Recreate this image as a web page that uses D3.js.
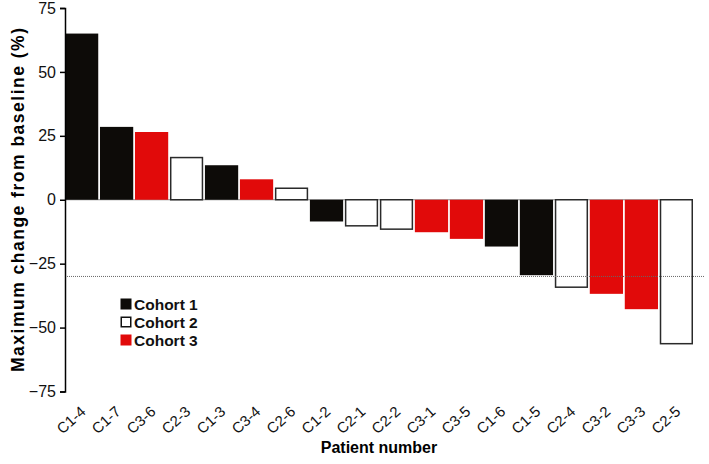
<!DOCTYPE html>
<html>
<head>
<meta charset="utf-8">
<script src="https://cdn.jsdelivr.net/npm/d3@7"></script>
<style>
  body { margin: 0; background: #fff; }
  text { font-family: "Liberation Sans", Arial, sans-serif; }
</style>
</head>
<body>
<script>
// data
var patients = ['C1-4', 'C1-7', 'C3-6', 'C2-3', 'C1-3', 'C3-4', 'C2-6', 'C1-2', 'C2-1',
                'C2-2', 'C3-1', 'C3-5', 'C1-6', 'C1-5', 'C2-4', 'C3-2', 'C3-3', 'C2-5'];
var changes = [65, 28.5, 26.5, 16.5, 13.5, 8, 4.5, -8.5, -10.2,
               -11.5, -12.7, -15.3, -18.3, -29.5, -34.2, -36.8, -42.8, -56.3];
var cohorts = [1, 1, 3, 2, 1, 3, 2, 1, 2, 2, 3, 3, 1, 1, 2, 3, 3, 2];
var yTicks = [75, 50, 25, 0, -25, -50, -75];
var threshold = -30;
var legendLabels = ['Cohort 1', 'Cohort 2', 'Cohort 3'];

var fills = {1: '#0d0b08', 2: '#ffffff', 3: '#e10a0a'};

var W = 709, H = 464;
var m = {left: 65, right: 693, top: 8, bottom: 391.5};

var svg = d3.select('body').append('svg')
  .attr('width', W).attr('height', H);

var x = d3.scaleBand().domain(patients).range([m.left, m.right]).paddingInner(0.05).paddingOuter(0);
var y = d3.scaleLinear().domain([-75, 75]).range([m.bottom, m.top]);

// zero line
svg.append('line')
  .attr('x1', m.left).attr('x2', m.right - 1)
  .attr('y1', y(0)).attr('y2', y(0))
  .attr('stroke', '#8a8a8a').attr('stroke-width', 1);

// bars
var rows = patients.map(function(p, i){ return {p: p, v: changes[i], c: cohorts[i]}; });
svg.append('g').selectAll('rect')
  .data(rows)
  .enter().append('rect')
  .attr('x', function(d){ return x(d.p) + (d.c == 2 ? 0.75 : 0); })
  .attr('width', function(d){ return x.bandwidth() - (d.c == 2 ? 1.5 : 0); })
  .attr('y', function(d){ return Math.min(y(d.v), y(0)); })
  .attr('height', function(d){ return Math.abs(y(d.v) - y(0)); })
  .attr('fill', function(d){ return fills[d.c]; })
  .attr('stroke', function(d){ return d.c == 2 ? '#2a2a2a' : 'none'; })
  .attr('stroke-width', 1.5);

// -30% threshold
svg.append('line')
  .attr('x1', m.left).attr('x2', 705)
  .attr('y1', y(threshold)).attr('y2', y(threshold))
  .attr('stroke', '#666').attr('stroke-width', 1)
  .attr('stroke-dasharray', '1,1');

// y axis
var yAxis = d3.axisLeft(y).tickValues(yTicks).tickSize(5).tickPadding(4).tickFormat(d3.format('d'));
var ga = svg.append('g')
  .attr('transform', 'translate(' + m.left + ',0)')
  .call(yAxis);
ga.select('.domain').attr('stroke', '#000').attr('stroke-width', 1.5);
ga.selectAll('.tick line').attr('stroke', '#000').attr('stroke-width', 1.5);
ga.selectAll('.tick text').attr('font-size', 16).attr('fill', '#111')
  .style('font-family', '"Liberation Sans", Arial, sans-serif');

// x labels, rotated
svg.append('g').selectAll('text')
  .data(patients)
  .enter().append('text')
  .attr('transform', function(d){
    return 'translate(' + (x(d) + x.bandwidth() / 2 + 5) + ',413) rotate(-42)';
  })
  .attr('text-anchor', 'end')
  .attr('font-size', 15)
  .attr('fill', '#111')
  .text(function(d){ return d; });

// axis titles
svg.append('text')
  .attr('x', (m.left + m.right) / 2).attr('y', 453)
  .attr('text-anchor', 'middle')
  .attr('font-size', 16).attr('font-weight', 'bold')
  .text('Patient number');

svg.append('text')
  .attr('transform', 'translate(24,200) rotate(-90)')
  .attr('text-anchor', 'middle')
  .attr('font-size', 17.5).attr('font-weight', 'bold')
  .attr('textLength', 344).attr('lengthAdjust', 'spacing')
  .text('Maximum change from baseline (%)');

// legend
var lg = svg.append('g');
legendLabels.forEach(function(l, i){
  var cy = 304 + i * 18;
  lg.append('rect')
    .attr('x', 120.5 + (i == 1 ? 0.75 : 0)).attr('y', cy - 5.5 + (i == 1 ? 0.75 : 0))
    .attr('width', 11 - (i == 1 ? 1.5 : 0)).attr('height', 11 - (i == 1 ? 1.5 : 0))
    .attr('fill', fills[i + 1])
    .attr('stroke', i == 1 ? '#111' : 'none').attr('stroke-width', 1.5);
  lg.append('text')
    .attr('x', 134).attr('y', cy + 5.5)
    .attr('font-size', 15.5).attr('font-weight', 'bold')
    .attr('fill', '#111')
    .text(l);
});
</script>
</body>
</html>
